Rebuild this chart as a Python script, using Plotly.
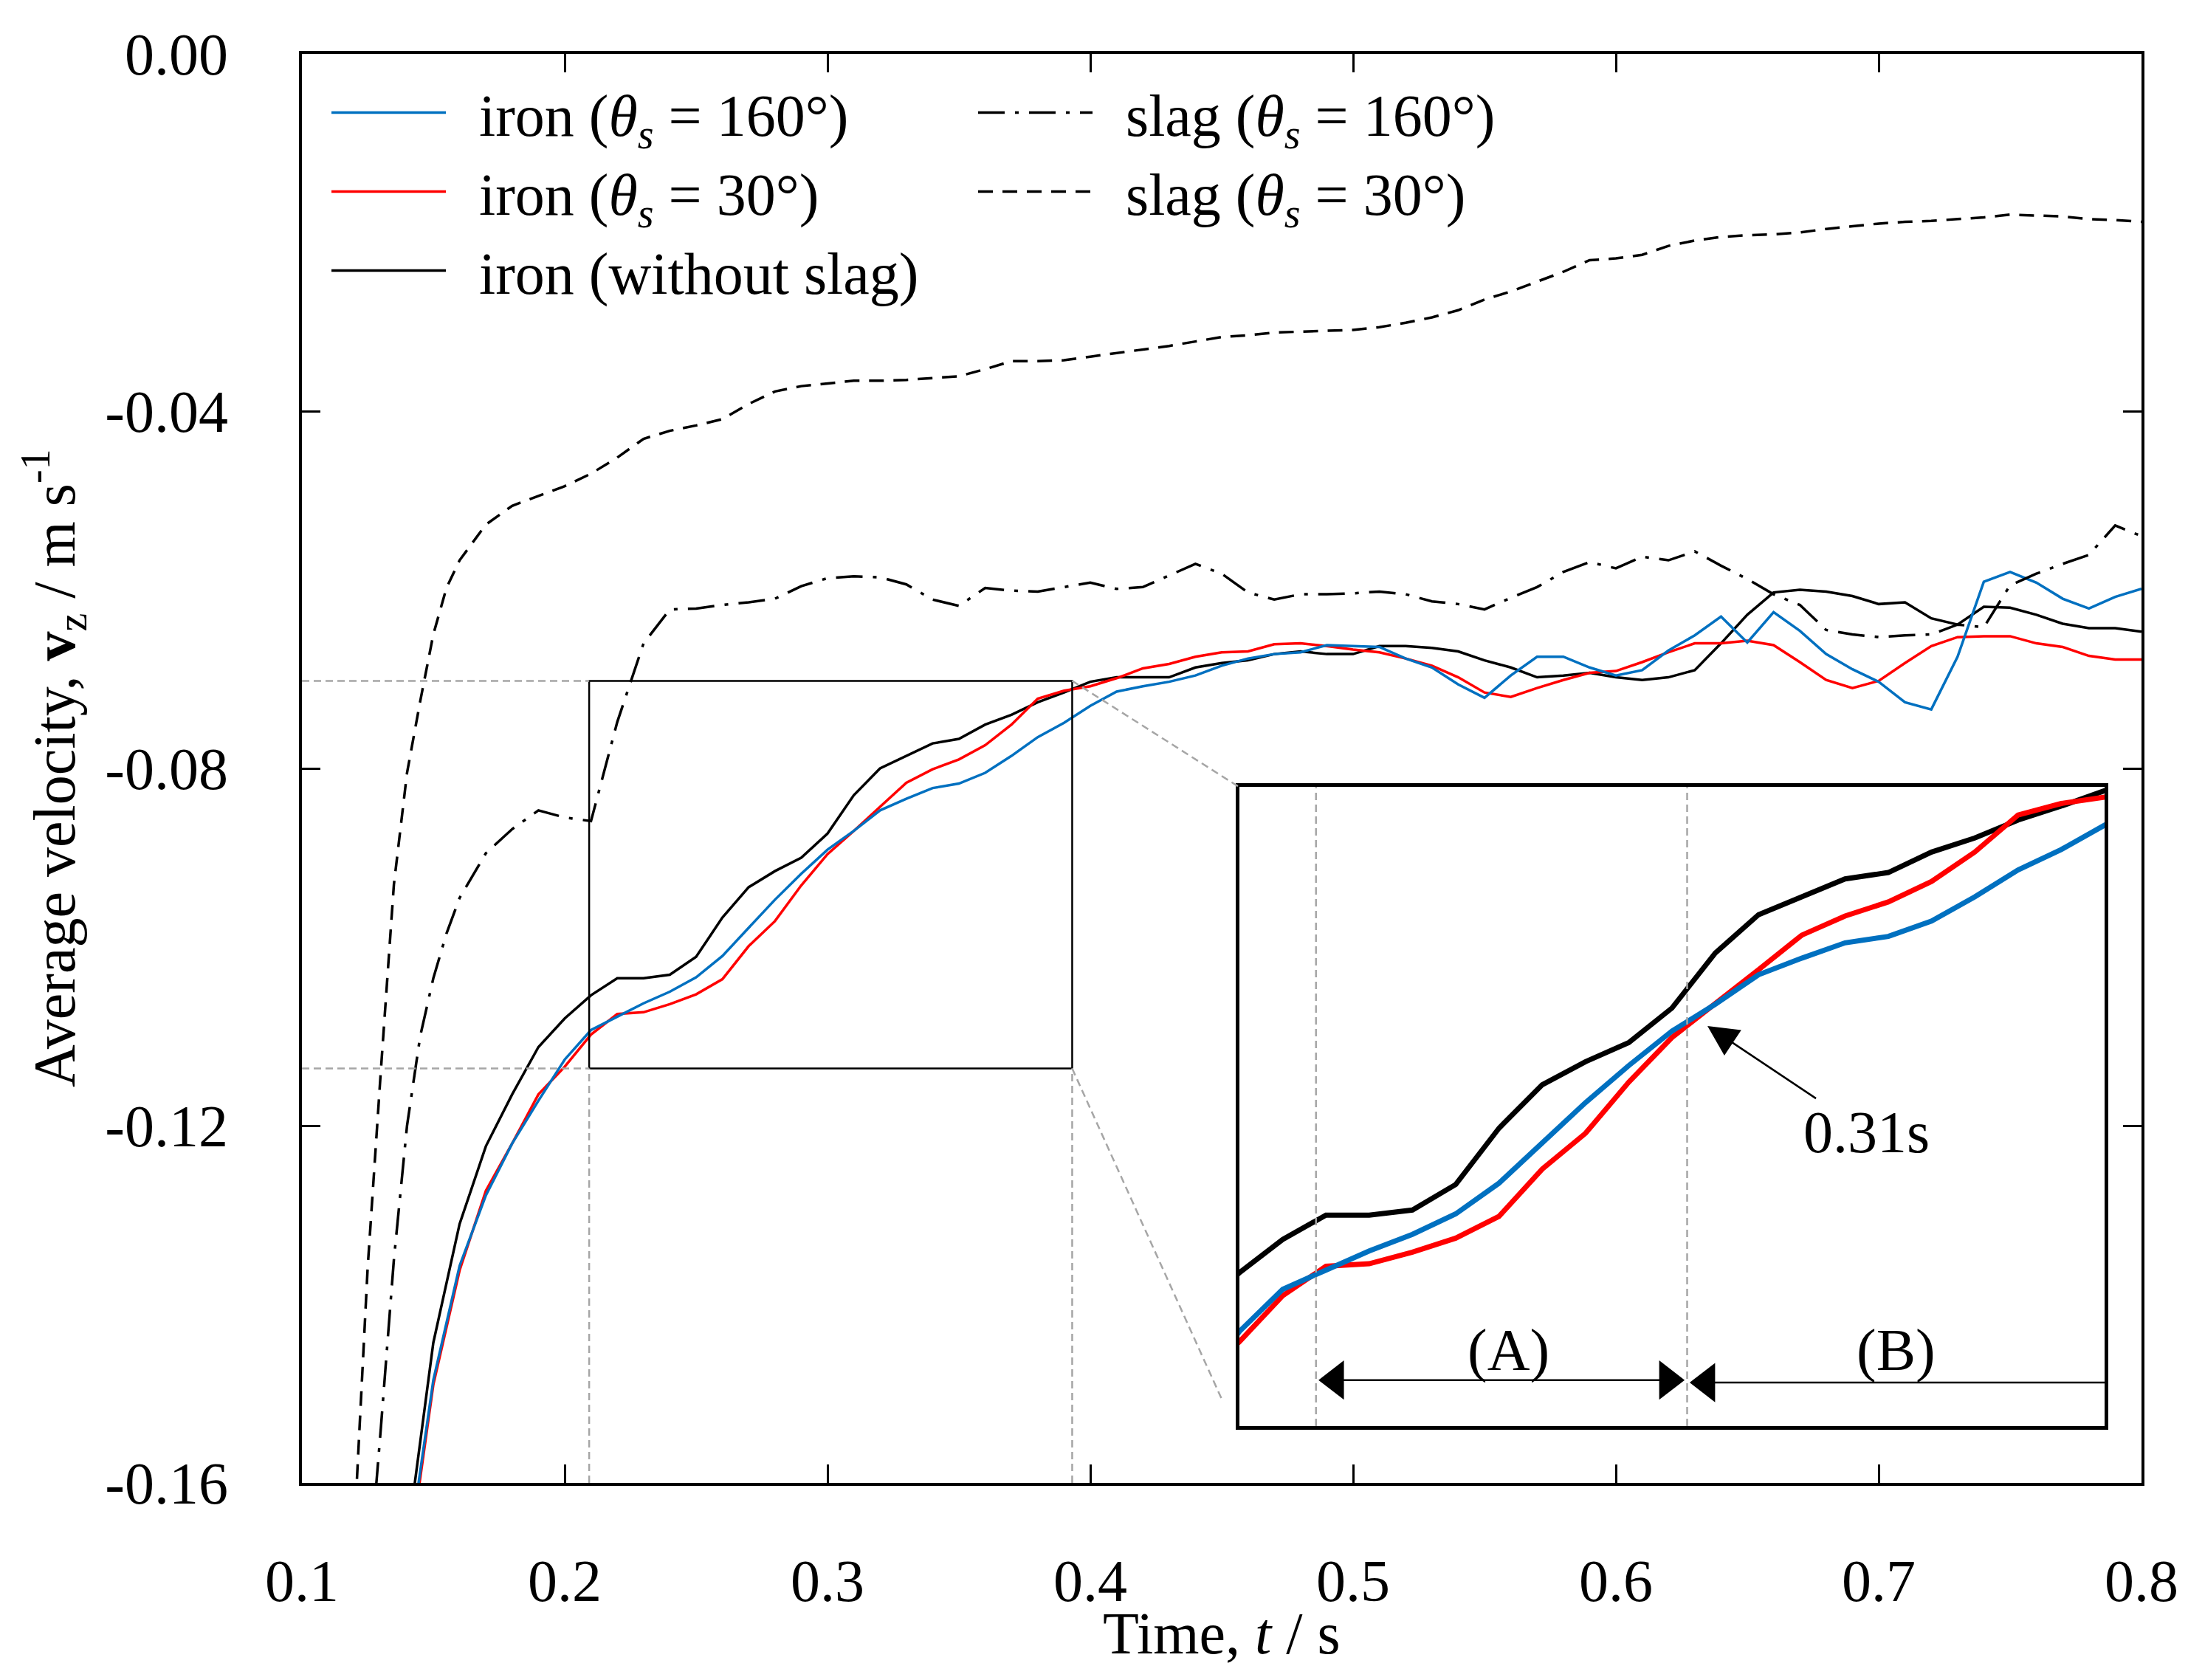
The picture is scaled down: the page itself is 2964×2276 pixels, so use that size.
import plotly.graph_objects as go

# time axis of the iron curves (s)
t_iron = [0.14, 0.15, 0.16, 0.17, 0.18, 0.19, 0.20, 0.21, 0.22, 0.23, 0.24,
          0.25, 0.26, 0.27, 0.28, 0.29, 0.30, 0.31, 0.32, 0.33, 0.34, 0.35,
          0.36, 0.37, 0.38, 0.39, 0.40, 0.41, 0.42, 0.43, 0.44, 0.45, 0.46,
          0.47, 0.48, 0.49, 0.50, 0.51, 0.52, 0.53, 0.54, 0.55, 0.56, 0.57,
          0.58, 0.59, 0.60, 0.61, 0.62, 0.63, 0.64, 0.65, 0.66, 0.67, 0.68,
          0.69, 0.70, 0.71, 0.72, 0.73, 0.74, 0.75, 0.76, 0.77, 0.78, 0.79, 0.80]

iron_160 = [-0.1690, -0.1485, -0.1357, -0.1278, -0.1220, -0.1172, -0.1126, -0.1093,
            -0.1078, -0.1063, -0.1050, -0.1034, -0.1010, -0.0978, -0.0947, -0.0918,
            -0.0891, -0.0870, -0.0847, -0.0834, -0.0822, -0.0817, -0.0805, -0.0786,
            -0.0765, -0.0749, -0.0730, -0.0714, -0.0708, -0.0703, -0.0696, -0.0685,
            -0.0677, -0.0672, -0.0670, -0.0662, -0.0663, -0.0664, -0.0677, -0.0687,
            -0.0706, -0.0721, -0.0696, -0.0675, -0.0675, -0.0687, -0.0696, -0.0690,
            -0.0668, -0.0651, -0.0630, -0.0659, -0.0625, -0.0646, -0.0672, -0.0689,
            -0.0703, -0.0726, -0.0734, -0.0675, -0.0591, -0.0580, -0.0592, -0.0610,
            -0.0621, -0.0608, -0.0599]

iron_30 = [-0.1700, -0.1490, -0.1362, -0.1273, -0.1220, -0.1165, -0.1134, -0.1098,
           -0.1075, -0.1073, -0.1064, -0.1053, -0.1036, -0.0999, -0.0971, -0.0931,
           -0.0896, -0.0870, -0.0843, -0.0816, -0.0801, -0.0790, -0.0774, -0.0751,
           -0.0722, -0.0713, -0.0708, -0.0699, -0.0688, -0.0683, -0.0675, -0.0670,
           -0.0669, -0.0661, -0.0660, -0.0663, -0.0667, -0.0670, -0.0677, -0.0685,
           -0.0698, -0.0715, -0.0720, -0.0710, -0.0701, -0.0693, -0.0691, -0.0681,
           -0.0670, -0.0660, -0.0660, -0.0657, -0.0662, -0.0681, -0.0701, -0.0710,
           -0.0702, -0.0682, -0.0663, -0.0653, -0.0652, -0.0652, -0.0660, -0.0664,
           -0.0674, -0.0678, -0.0678]

iron_noslag = [-0.1666, -0.1443, -0.1310, -0.1223, -0.1165, -0.1112, -0.1080, -0.1054,
               -0.1035, -0.1035, -0.1031, -0.1011, -0.0967, -0.0933, -0.0915, -0.0900,
               -0.0873, -0.0830, -0.0800, -0.0786, -0.0772, -0.0767, -0.0751, -0.0740,
               -0.0726, -0.0715, -0.0703, -0.0698, -0.0698, -0.0698, -0.0687, -0.0682,
               -0.0679, -0.0672, -0.0669, -0.0672, -0.0672, -0.0663, -0.0663, -0.0665,
               -0.0669, -0.0679, -0.0687, -0.0698, -0.0696, -0.0693, -0.0698, -0.0701,
               -0.0698, -0.0690, -0.0660, -0.0628, -0.0603, -0.0600, -0.0602, -0.0607,
               -0.0616, -0.0614, -0.0632, -0.0639, -0.0619, -0.0620, -0.0628, -0.0638,
               -0.0643, -0.0643, -0.0647]

# slag curves, finer steps during the first rise
t_slag160 = [0.125, 0.13, 0.135, 0.14, 0.145, 0.15, 0.155, 0.16, 0.17, 0.18, 0.19,
             0.20, 0.21, 0.22, 0.23, 0.24, 0.25, 0.26, 0.27, 0.28, 0.29, 0.30,
             0.31, 0.32, 0.33, 0.34, 0.35, 0.36, 0.37, 0.38, 0.39, 0.40, 0.41,
             0.42, 0.43, 0.44, 0.45, 0.46, 0.47, 0.48, 0.49, 0.50, 0.51, 0.52,
             0.53, 0.54, 0.55, 0.56, 0.57, 0.58, 0.59, 0.60, 0.61, 0.62, 0.63,
             0.64, 0.65, 0.66, 0.67, 0.68, 0.69, 0.70, 0.71, 0.72, 0.73, 0.74,
             0.75, 0.76, 0.77, 0.78, 0.79, 0.80]
slag_160 = [-0.1720, -0.1540, -0.1350, -0.1200, -0.1100, -0.1035, -0.0985, -0.0945,
            -0.0895, -0.0868, -0.0847, -0.0855, -0.0859, -0.0748, -0.0660, -0.0622,
            -0.0621, -0.0617, -0.0614, -0.0610, -0.0596, -0.0587, -0.0585, -0.0586,
            -0.0594, -0.0611, -0.0618, -0.0598, -0.0601, -0.0602, -0.0597, -0.0592,
            -0.0599, -0.0597, -0.0584, -0.0571, -0.0582, -0.0603, -0.0611, -0.0605,
            -0.0605, -0.0604, -0.0602, -0.0605, -0.0613, -0.0616, -0.0622, -0.0609,
            -0.0597, -0.0580, -0.0569, -0.0576, -0.0563, -0.0567, -0.0557, -0.0573,
            -0.0588, -0.0605, -0.0617, -0.0645, -0.0650, -0.0653, -0.0651, -0.0650,
            -0.0639, -0.0642, -0.0595, -0.0582, -0.0571, -0.0561, -0.0528, -0.0540]

t_slag30 = [0.12, 0.125, 0.13, 0.135, 0.14, 0.145, 0.15, 0.155, 0.16, 0.17, 0.18,
            0.19, 0.20, 0.21, 0.22, 0.23, 0.24, 0.25, 0.26, 0.27, 0.28, 0.29,
            0.30, 0.31, 0.32, 0.33, 0.34, 0.35, 0.36, 0.37, 0.38, 0.39, 0.40,
            0.41, 0.42, 0.43, 0.44, 0.45, 0.46, 0.47, 0.48, 0.49, 0.50, 0.51,
            0.52, 0.53, 0.54, 0.55, 0.56, 0.57, 0.58, 0.59, 0.60, 0.61, 0.62,
            0.63, 0.64, 0.65, 0.66, 0.67, 0.68, 0.69, 0.70, 0.71, 0.72, 0.73,
            0.74, 0.75, 0.76, 0.77, 0.78, 0.79, 0.80]
slag_30 = [-0.1650, -0.1360, -0.1140, -0.0930, -0.0805, -0.0725, -0.0650, -0.0598,
           -0.0567, -0.0527, -0.0506, -0.0495, -0.0484, -0.0470, -0.0452, -0.0431,
           -0.0422, -0.0416, -0.0409, -0.0392, -0.0378, -0.0372, -0.0369, -0.0366,
           -0.0366, -0.0365, -0.0363, -0.0361, -0.0353, -0.0344, -0.0344, -0.0343,
           -0.0339, -0.0335, -0.0331, -0.0327, -0.0322, -0.0317, -0.0315, -0.0312,
           -0.0311, -0.0310, -0.0309, -0.0306, -0.0301, -0.0295, -0.0287, -0.0275,
           -0.0266, -0.0255, -0.0244, -0.0231, -0.0229, -0.0225, -0.0215, -0.0209,
           -0.0205, -0.0203, -0.0202, -0.0200, -0.0196, -0.0193, -0.0190, -0.0188,
           -0.0187, -0.0185, -0.0183, -0.0180, -0.0181, -0.0182, -0.0185, -0.0186,
           -0.0188]

x_ticks = [0.1, 0.2, 0.3, 0.4, 0.5, 0.6, 0.7, 0.8]
x_labels = ["0.1", "0.2", "0.3", "0.4", "0.5", "0.6", "0.7", "0.8"]
y_ticks = [0.0, -0.04, -0.08, -0.12, -0.16]
y_labels = ["0.00", "-0.04", "-0.08", "-0.12", "-0.16"]

# zoom window drawn on the main plot and the inset axis ranges
zoom_box = [0.2093, 0.3931, -0.1136, -0.0702]
inset_x = [0.20, 0.40]
inset_y = [-0.12, -0.07]
t_mark_a = 0.2177
t_cross = 0.3035
y_arrow_a = -0.1164
y_arrow_b = -0.1166

FONT = "Liberation Serif"
BLUE = "#0070C0"
RED = "#FF0000"
GREY = "#A6A6A6"
NB = "\u00a0\u00a0"

W, H = 2964, 2276
L, R, T, B = 401, 71, 65, 275


def px_x(px):
    return (px - L) / (W - L - R)


def px_y(py):
    return (H - B - py) / (H - T - B)


fig = go.Figure()

series = [
    (NB + "iron (<i>θ<sub>s</sub></i> = 160°)", iron_160, BLUE, 1),
    (NB + "iron (<i>θ<sub>s</sub></i> = 30°)", iron_30, RED, 2),
    (NB + "iron (without slag)", iron_noslag, "black", 3),
]
for name, vals, col, rank in reversed(series):
    fig.add_trace(go.Scatter(x=t_iron, y=vals, mode="lines", name=name,
                             line=dict(color=col, width=3.5), legend="legend",
                             legendrank=rank))

fig.add_trace(go.Scatter(x=t_slag160, y=slag_160, mode="lines",
                         name=NB + "slag (<i>θ<sub>s</sub></i> = 160°)",
                         line=dict(color="black", width=3.5, dash="36px,14px,5px,14px"),
                         legend="legend2", legendrank=1))
fig.add_trace(go.Scatter(x=t_slag30, y=slag_30, mode="lines",
                         name=NB + "slag (<i>θ<sub>s</sub></i> = 30°)",
                         line=dict(color="black", width=3.5, dash="20px,13px"),
                         legend="legend2", legendrank=2))

# inset copies, thicker lines
for name, vals, col, rank in reversed(series):
    fig.add_trace(go.Scatter(x=t_iron, y=vals, mode="lines", showlegend=False,
                             line=dict(color=col, width=7), xaxis="x2", yaxis="y2"))

# arrow heads of the (A) and (B) spans
head_off = 0.0045
fig.add_trace(go.Scatter(
    x=[t_mark_a + head_off, t_cross - head_off, t_cross + head_off],
    y=[y_arrow_a, y_arrow_a, y_arrow_b], mode="markers", showlegend=False,
    marker=dict(symbol=["triangle-left", "triangle-right", "triangle-left"],
                size=46, color="black", line=dict(width=0)),
    xaxis="x2", yaxis="y2", cliponaxis=False))

axis_common = dict(showline=True, linecolor="black", linewidth=4, mirror="ticks",
                   ticks="inside", ticklen=25, tickwidth=3, tickcolor="black",
                   showgrid=False, zeroline=False,
                   tickfont=dict(family=FONT, size=80, color="black"))

fig.update_layout(
    width=W, height=H,
    margin=dict(l=L, r=R, t=T, b=B),
    paper_bgcolor="white", plot_bgcolor="white",
    xaxis=dict(range=[0.1, 0.8], tickvals=x_ticks, ticktext=x_labels,
               ticklabelstandoff=60, **axis_common),
    yaxis=dict(range=[-0.16, 0.0], tickvals=y_ticks, ticktext=y_labels,
               ticklabelstandoff=80, **axis_common),
    xaxis2=dict(domain=[px_x(1671), px_x(2843)], range=inset_x, anchor="y2",
                showline=True, linecolor="black", linewidth=5, mirror=True,
                showticklabels=False, ticks="", showgrid=False, zeroline=False),
    yaxis2=dict(domain=[px_y(1924), px_y(1058)], range=inset_y, anchor="x2",
                showline=True, linecolor="black", linewidth=5, mirror=True,
                showticklabels=False, ticks="", showgrid=False, zeroline=False),
    legend=dict(x=px_x(436), y=px_y(86), xanchor="left", yanchor="top",
                font=dict(family=FONT, size=80, color="black"), itemwidth=155,
                bgcolor="rgba(0,0,0,0)", tracegroupgap=0),
    legend2=dict(x=px_x(1312), y=px_y(86), xanchor="left", yanchor="top",
                 font=dict(family=FONT, size=80, color="black"), itemwidth=155,
                 bgcolor="rgba(0,0,0,0)", tracegroupgap=0),
    showlegend=True,
)

x0, x1, y0, y1 = zoom_box
grey_dash = dict(color=GREY, width=2.5, dash="10px,6px")
shapes = [
    dict(type="rect", xref="x", yref="y", x0=x0, x1=x1, y0=y0, y1=y1,
         line=dict(color="black", width=2.5)),
    dict(type="line", xref="x", yref="y", x0=0.1, x1=x0, y0=y1, y1=y1, line=grey_dash),
    dict(type="line", xref="x", yref="y", x0=0.1, x1=x0, y0=y0, y1=y0, line=grey_dash),
    dict(type="line", xref="x", yref="y", x0=x0, x1=x0, y0=-0.16, y1=y0, line=grey_dash),
    dict(type="line", xref="x", yref="y", x0=x1, x1=x1, y0=-0.16, y1=y0, line=grey_dash),
    dict(type="line", xref="x", yref="y", x0=x1, x1=0.4567, y0=y1, y1=-0.0821, line=grey_dash),
    dict(type="line", xref="x", yref="y", x0=x1, x1=0.4503, y0=y0, y1=-0.1508, line=grey_dash),
    dict(type="line", xref="x2", yref="y2", x0=t_mark_a, x1=t_mark_a,
         y0=inset_y[0], y1=inset_y[1], line=grey_dash),
    dict(type="line", xref="x2", yref="y2", x0=t_cross, x1=t_cross,
         y0=inset_y[0], y1=inset_y[1], line=grey_dash),
    # (A) and (B) span lines
    dict(type="line", xref="x2", yref="y2", x0=t_mark_a + head_off, x1=t_cross - head_off,
         y0=y_arrow_a, y1=y_arrow_a, line=dict(color="black", width=2.5)),
    dict(type="line", xref="x2", yref="y2", x0=t_cross + head_off, x1=inset_x[1],
         y0=y_arrow_b, y1=y_arrow_b, line=dict(color="black", width=2.5)),
]
fig.update_layout(shapes=shapes)

txt = dict(family=FONT, size=80, color="black")
annotations = [
    # axis titles
    dict(text="Time, <i>t</i> / s", xref="paper", yref="paper", x=0.5, y=0,
         xanchor="center", yanchor="middle", yshift=-204, showarrow=False, font=txt),
    dict(text="Average velocity, <b>v</b><sub>z</sub> / m s<sup>-1</sup>",
         xref="paper", yref="paper", x=0, y=0.5, xanchor="center", yanchor="middle",
         xshift=-336, textangle=-90, showarrow=False, font=txt),
    dict(text="(A)", xref="x2", yref="y2", x=0.2622, y=-0.1141, showarrow=False, font=txt),
    dict(text="(B)", xref="x2", yref="y2", x=0.3518, y=-0.1141, showarrow=False, font=txt),
    # crossing point of the iron curves
    dict(text="0.31s", xref="x2", yref="y2", axref="x2", ayref="y2",
         x=0.3082, y=-0.0887, ax=0.3449, ay=-0.0970, showarrow=True,
         arrowhead=2, arrowsize=3.3, arrowwidth=2.5, arrowcolor="black",
         standoff=0, font=txt),
]
fig.update_layout(annotations=annotations)

fig.write_html("out.html")
